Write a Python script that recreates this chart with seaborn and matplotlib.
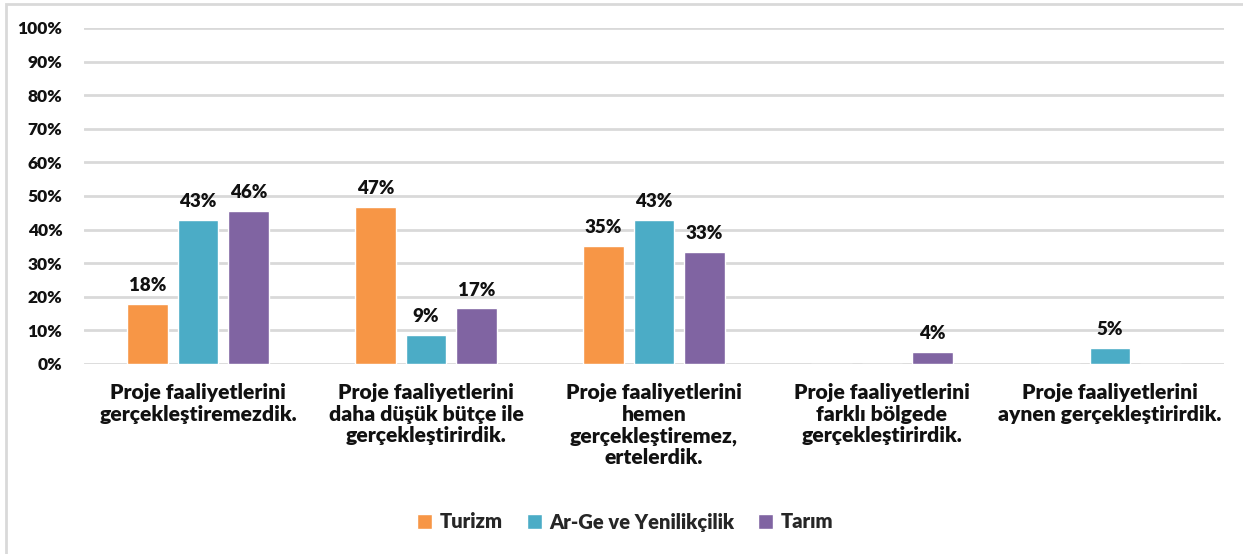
import matplotlib
matplotlib.use("Agg")
import matplotlib.pyplot as plt
import seaborn as sns
import pandas as pd
from matplotlib.patches import Rectangle
from matplotlib.ticker import PercentFormatter

categories = [
    "Proje faaliyetlerini\ngerçekleştiremezdik.",
    "Proje faaliyetlerini\ndaha düşük bütçe ile\ngerçekleştirirdik.",
    "Proje faaliyetlerini\nhemen\ngerçekleştiremez,\nertelerdik.",
    "Proje faaliyetlerini\nfarklı bölgede\ngerçekleştirirdik.",
    "Proje faaliyetlerini\naynen gerçekleştirirdik.",
]
series = ["Turizm", "Ar-Ge ve Yenilikçilik", "Tarım"]
turizm = [18, 46.7, 35.1, 0, 0]
arge = [42.9, 8.6, 42.9, 0, 4.9]
tarim = [45.6, 16.6, 33.3, 3.7, 0]
colors = ["#F79646", "#4BACC6", "#8064A2"]

rows = []
for s, vals in zip(series, [turizm, arge, tarim]):
    for c, v in zip(categories, vals):
        rows.append({"cat": c, "series": s, "value": v})
df = pd.DataFrame(rows)

sns.set_style("white")
plt.rcParams["font.family"] = ["Lato", "DejaVu Sans"]

fig = plt.figure(figsize=(12.43, 5.54), dpi=100)
ax = fig.add_axes([84 / 1243, 1 - 364 / 554, 1140 / 1243, 336 / 554])

sns.barplot(data=df, x="cat", y="value", hue="series", order=categories,
            hue_order=series, palette=colors, width=0.664, gap=0.19,
            saturation=1, ax=ax, legend=True, errorbar=None)

for cont in ax.containers:
    labels = [f"{v:.0f}%" if v > 0 else "" for v in cont.datavalues]
    ax.bar_label(cont, labels=labels, padding=7, fontsize=13.5,
                 fontweight="heavy", color="#111111")

ax.set_ylim(0, 100)
ax.set_yticks(range(0, 101, 10))
ax.yaxis.set_major_formatter(PercentFormatter(decimals=0))
ax.set_xlim(-0.5, len(categories) - 0.5)
ax.grid(axis="y", color="#D9D9D9", linewidth=2)
ax.set_axisbelow(True)
for sp in ax.spines.values():
    sp.set_visible(False)
ax.set_xlabel("")
ax.set_ylabel("")
ax.tick_params(axis="y", length=0, pad=15.5, labelsize=12.5)
ax.tick_params(axis="x", length=0, pad=14, labelsize=15.2)
for lbl in ax.get_yticklabels() + ax.get_xticklabels():
    lbl.set_fontweight("heavy")
    lbl.set_color("#111111")
for lbl in ax.get_xticklabels():
    lbl.set_verticalalignment("top")
    lbl.set_linespacing(1.15)

handles, labs = ax.get_legend_handles_labels()
ax.legend_.remove()
fig.legend(handles, labs, loc="center", bbox_to_anchor=(0.503, 1 - 522 / 554),
           ncol=3, frameon=False, handlelength=0.75, handleheight=0.75,
           handletextpad=0.35, columnspacing=1.2,
           prop={"weight": "heavy", "size": 14.5})

# chart-area border (top and left edges visible)
fig.patches.append(Rectangle((6 / 1243, -0.1), 1.2, 1 - 4 / 554 + 0.1,
                             transform=fig.transFigure, fill=False,
                             edgecolor="#D9D9D9", linewidth=2))

fig.savefig("out.png", dpi=100)
